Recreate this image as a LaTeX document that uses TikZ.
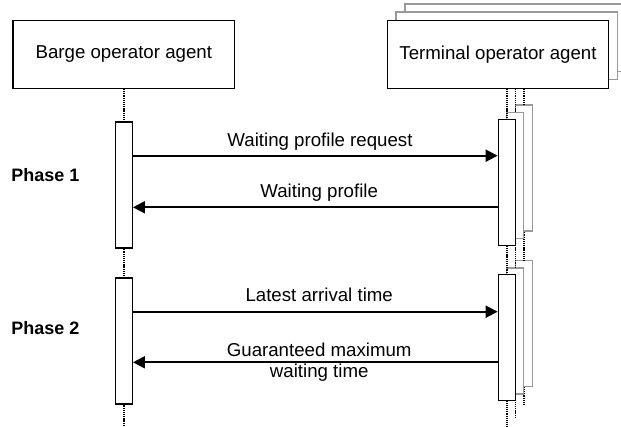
\documentclass[tikz,border=0pt]{standalone}
\usepackage{fontspec}
\setmainfont{Liberation Sans}
\usetikzlibrary{arrows.meta}
\begin{document}
\begin{tikzpicture}[x=0.75pt,y=-0.75pt,
  agent/.style={draw, line width=1pt, fill=white, minimum width=166pt, minimum height=50.7pt, inner sep=0pt, font=\fontsize{14}{16}\selectfont},
  ghost/.style={agent, draw=black!40},
  bar/.style={draw, line width=1pt, fill=white, minimum width=12.75pt, minimum height=94.5pt, inner sep=0pt},
  ghostbar/.style={bar, draw=black!40},
  life/.style={line width=1.2pt, dash pattern=on 0.8pt off 0.6pt},
  msg/.style={line width=1.5pt, -{Triangle[length=9pt,width=9pt]}},
  lbl/.style={font=\fontsize{14}{16}\selectfont, inner sep=0pt, align=center},
  phase/.style={font=\fontsize{13.5}{16}\selectfont\bfseries, inner sep=0pt, anchor=base west}]
\useasboundingbox (0,0) rectangle (621,427);
\clip (0,0) rectangle (621,427);

% agents
\node[agent] (barge) at (123.8,54.5) {Barge operator agent};
\node[ghost] (term3) at (515.7,37.8) {};
\node[ghost] (term2) at (506.7,45.9) {};
\node[agent] (term) at (498,54.5) {Terminal operator agent};

% activation bars (positions only)
\path (123.8,185) node[bar] (lb1) {} (123.8,340.9) node[bar] (lb2) {};
\path (523.8,168) coordinate (tb1c) (523.8,323.4) coordinate (tb2c);
\path (515.3,175.5) coordinate (sb1c) (515.3,331) coordinate (sb2c);

% third stack lifelines and bars
\node[ghostbar] (tb1) at (tb1c) {};
\node[ghostbar] (tb2) at (tb2c) {};
\coordinate (tend) at (523.8,405);
\draw[life] (term.south -| tb1.north) -- (tb1.north);
\draw[life] (tb1.south) -- (tb2.north);
\draw[life] (tb2.south) -- (tend);

% second stack
\node[ghostbar] (sb1) at (sb1c) {};
\node[ghostbar] (sb2) at (sb2c) {};
\coordinate (send) at (515.3,417.3);
\draw[life] (term.south -| sb1.north) -- (sb1.north);
\draw[life] (sb1.south) -- (sb2.north);
\draw[life] (sb2.south) -- (send);

% front terminal bars
\node[bar] (rb1) at (506.8,182.5) {};
\node[bar] (rb2) at (506.8,337.7) {};
\coordinate (rend) at (506.8,427);
\draw[life] (term.south -| rb1.north) -- (rb1.north);
\draw[life] (rb1.south) -- (rb2.north);
\draw[life] (rb2.south) -- (rend);

% barge lifeline
\coordinate (lend) at (123.8,427);
\draw[life] (barge.south) -- (lb1.north);
\draw[life] (lb1.south) -- (lb2.north);
\draw[life] (lb2.south) -- (lend);

% messages
\coordinate (m1) at (315,155.7);
\coordinate (m2) at (315,207.3);
\coordinate (m3) at (315,311.7);
\coordinate (m4) at (315,362.3);
\draw[msg] (lb1.east |- m1) -- (rb1.west |- m1);
\draw[msg] (rb1.west |- m2) -- (lb1.east |- m2);
\draw[msg] (lb2.east |- m3) -- (rb2.west |- m3);
\draw[msg] (rb2.west |- m4) -- (lb2.east |- m4);

\node[lbl, anchor=base] (t1) at (320,146.7) {Waiting profile request};
\node[lbl, anchor=base] (t2) at (319.2,197.3) {Waiting profile};
\node[lbl, anchor=base] (t3) at (319.2,301.7) {Latest arrival time};
\node[lbl, anchor=center] (t4) at (319.2,362) {Guaranteed maximum\\waiting time};

% phases
\node[phase] (p1) at (11,181.7) {Phase 1};
\node[phase] (p2) at (11,334.3) {Phase 2};
\end{tikzpicture}
\end{document}
